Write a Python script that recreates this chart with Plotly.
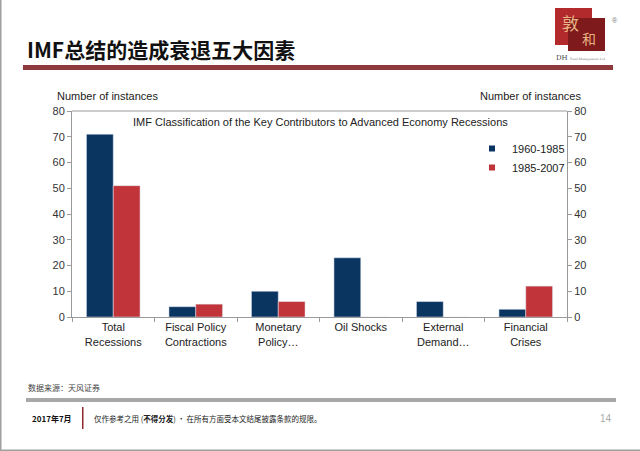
import plotly.graph_objects as go

categories = ["Total<br>Recessions", "Fiscal Policy<br>Contractions", "Monetary<br>Policy…",
              "Oil Shocks", "External<br>Demand…", "Financial<br>Crises"]
series_1960_1985 = [71, 4, 10, 23, 6, 3]
series_1985_2007 = [51, 5, 6, 0, 0, 12]
y_ticks = [0, 10, 20, 30, 40, 50, 60, 70, 80]
series_names = ["1960-1985", "1985-2007"]

NAVY = "#0B3561"
RED = "#C0343A"
AX = "#9A9A9A"
FONT = "Liberation Sans, Arial, sans-serif"
CJK = "Noto Sans CJK SC"

fig = go.Figure()
fig.add_trace(go.Bar(x=categories, y=series_1960_1985, name=series_names[0], marker_color=NAVY,
                     showlegend=False))
fig.add_trace(go.Bar(x=categories, y=series_1985_2007, name=series_names[1], marker_color=RED,
                     showlegend=False))
# legend entries with small square symbols
for nm, col in zip(series_names, [NAVY, RED]):
    fig.add_trace(go.Scatter(x=[None], y=[None], mode="markers", name=nm,
                             marker=dict(symbol="square", size=6, color=col)))
# invisible trace to activate right axis
fig.add_trace(go.Scatter(x=categories, y=series_1960_1985, yaxis="y2", mode="markers",
                         marker=dict(opacity=0), showlegend=False, hoverinfo="skip"))

W, H = 640, 451
L, R, T, B = 72, 567, 111, 317

fig.update_layout(
    width=W, height=H,
    margin=dict(l=L, r=W - R, t=T, b=H - B),
    paper_bgcolor="white", plot_bgcolor="white",
    barmode="group", bargap=0.35, bargroupgap=0,
    font=dict(family=FONT, size=11, color="#333333"),
    xaxis=dict(type="category", showline=True, linecolor=AX, linewidth=1, mirror=False,
               ticks="outside", tickson="boundaries", ticklen=4, tickcolor=AX,
               tickfont=dict(size=11, color="#222222"), showgrid=False),
    yaxis=dict(range=[0, 80], tickvals=y_ticks, showline=True, linecolor=AX, linewidth=1,
               ticks="outside", ticklen=4, tickcolor=AX, showgrid=False, zeroline=False,
               tickfont=dict(size=11, color="#333333")),
    yaxis2=dict(range=[0, 80], tickvals=y_ticks, overlaying="y", side="right",
                showline=True, linecolor=AX, linewidth=1, ticks="outside", ticklen=4,
                tickcolor=AX, showgrid=False, zeroline=False,
                tickfont=dict(size=11, color="#333333")),
    legend=dict(x=(472 - L) / (R - L), y=1 - (134 - T) / (B - T), xanchor="left", yanchor="top",
                bgcolor="rgba(0,0,0,0)", font=dict(size=11, color="#222222"),
                tracegroupgap=0, itemwidth=30),
    showlegend=True,
)

# top border of plot frame
fig.add_shape(type="line", xref="paper", yref="paper", x0=0, x1=1, y0=1, y1=1,
              line=dict(color=AX, width=1))


def add_text(text, x, y, size, color="#222222", xanchor="left", family=FONT, bold=False):
    if bold:
        text = "<b>" + text + "</b>"
    fig.add_annotation(text=text, xref="paper", yref="paper", x=(x - L) / (R - L),
                       y=(H - y - (H - B)) / (B - T), xanchor=xanchor, yanchor="middle",
                       showarrow=False, font=dict(size=size, color=color, family=family))


def rect_px(x0, y0, x1, y1, color):
    fig.add_shape(type="rect", xref="paper", yref="paper",
                  x0=(x0 - L) / (R - L), x1=(x1 - L) / (R - L),
                  y0=(H - y1 - (H - B)) / (B - T), y1=(H - y0 - (H - B)) / (B - T),
                  fillcolor=color, line=dict(width=0), layer="above")


add_text("IMF Classification of the Key Contributors to Advanced Economy Recessions",
         320, 122, 11, xanchor="center")
add_text("Number of instances", 55, 96, 11)
add_text("Number of instances", 583, 96, 11, xanchor="right")

# slide header
add_text("IMF总结的造成衰退五大因素", 25, 49, 21, color="#111111", family=CJK, bold=True)
rect_px(23, 65, 613, 70, "#8E3A3C")

# logo
rect_px(555, 8, 592, 45, "#B22A2C")
rect_px(568, 18, 605, 51, "#7E1A1C")
add_text("敦", 560, 22, 17, color="#E8B383", family=CJK)
add_text("和", 580, 38, 14, color="#E8B383", family=CJK)
add_text("®", 610, 20, 7, color="#777777")
add_text("DH", 554, 58, 7, color="#444444", family="DejaVu Serif")
add_text("Fund Management Ltd.", 568, 58.5, 3, color="#777777", family="DejaVu Serif")

# footer
add_text("数据来源：天风证券", 26, 387, 8, color="#444444", family=CJK)
rect_px(26, 398, 616, 402, "#A8A8A8")
add_text("2017年7月", 30, 418, 8, color="#111111", family=CJK, bold=True)
rect_px(82, 407, 83.5, 429, "#8E2A2C")
add_text("仅作参考之用 (<b>不得分发</b>) · 在所有方面受本文结尾披露条款的规限。", 92, 418, 7.5,
         color="#222222", family=CJK)
add_text("14", 614, 418, 10, color="#AAAAAA", xanchor="right")

# slide border (left and bottom)
rect_px(0, 0, 1.5, 451, "#A0A0A0")
rect_px(0, 449.5, 640, 451, "#A0A0A0")

fig.write_html("out.html", config={"displayModeBar": False},
               post_script="document.body.style.margin='0';")
